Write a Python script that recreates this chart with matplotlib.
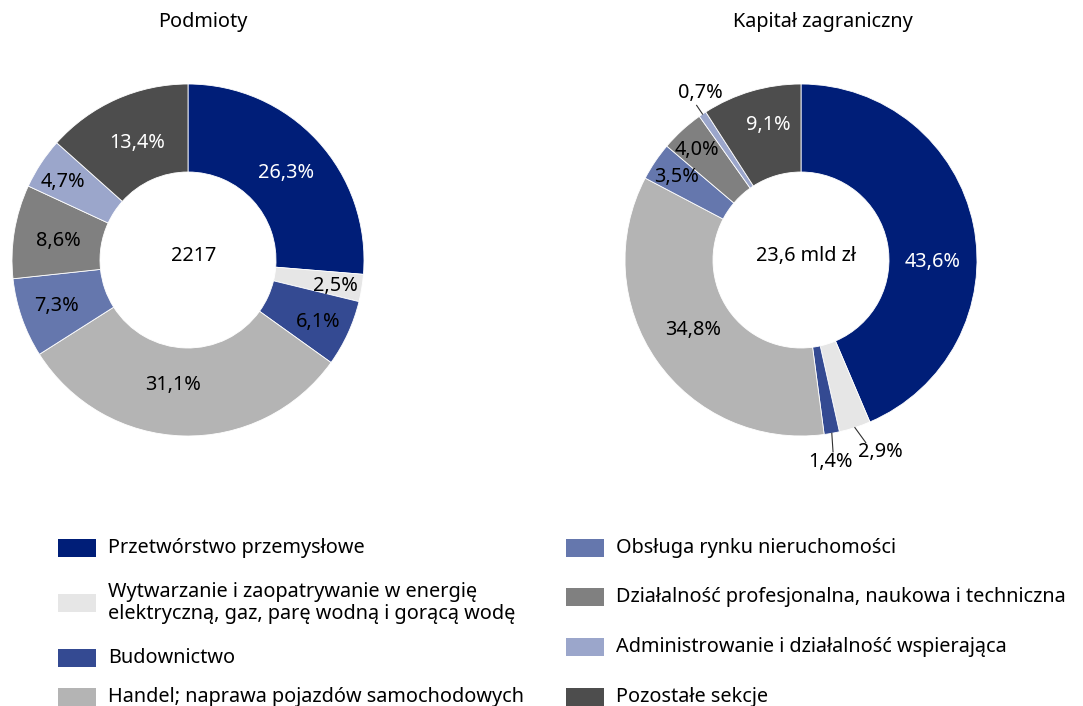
import matplotlib
matplotlib.use("Agg")
import matplotlib.pyplot as plt
from matplotlib.patches import Rectangle
import numpy as np

plt.rcParams['font.family'] = ['Noto Sans', 'DejaVu Sans']

categories = [
    "Przetwórstwo przemysłowe",
    "Wytwarzanie i zaopatrywanie w energię\nelektryczną, gaz, parę wodną i gorącą wodę",
    "Budownictwo",
    "Handel; naprawa pojazdów samochodowych",
    "Obsługa rynku nieruchomości",
    "Działalność profesjonalna, naukowa i techniczna",
    "Administrowanie i działalność wspierająca",
    "Pozostałe sekcje",
]
podmioty = [26.3, 2.5, 6.1, 31.1, 7.3, 8.6, 4.7, 13.4]
kapital = [43.6, 2.9, 1.4, 34.8, 3.5, 4.0, 0.7, 9.1]
titles = ["Podmioty", "Kapitał zagraniczny"]
center_texts = ["2217", "23,6 mld zł"]

colors = ["#001E78", "#E6E6E6", "#344A92", "#B4B4B4",
          "#6577AD", "#808080", "#9BA6CB", "#4D4D4D"]
text_colors = ["white", "black", "black", "black", "black", "black", "black", "white"]

W, H = 1083, 706
fig = plt.figure(figsize=(W / 100, H / 100), dpi=100)

FS = 14.3
R = 176
M = 1.35  # axes half-size in radius units


def make_ax(cx, cy):
    half = R * M
    ax = fig.add_axes([(cx - half) / W, (H - cy - half) / H, 2 * half / W, 2 * half / H])
    return ax


def fmt(v):
    return f"{v:.1f}".replace(".", ",") + "%"


# label placement: (distance in radius units, angle offset deg, leader line (r0, r1, angle offset) or None)
label_pos_left = [(0.745, -1.1, None), (0.85, -0.8, None), (0.82, -0.8, None),
                  (0.715, -5.2, None), (0.79, 0, None), (0.745, 1.1, None),
                  (0.84, 1.3, None), (0.725, -0.6, None)]
label_pos_right = [(0.75, -12.4, None), (1.18, 4.6, (1.0, 1.10, 1.7)),
                   (1.16, -1.9, (1.0, 1.105, -0.6)), (0.73, -1.7, None),
                   (0.85, 0.5, None), (0.86, 0.9, None),
                   (1.11, -3.0, (1.0, 1.06, 0)), (0.79, -2.7, None)]


def draw(cx, cy, values, title, ctext, lpos):
    ax = make_ax(cx, cy)
    wedges, _ = ax.pie(values, colors=colors, startangle=90, counterclock=False,
                       radius=1.0, wedgeprops=dict(width=0.5, edgecolor='white', linewidth=0.6))
    ax.set_xlim(-M, M)
    ax.set_ylim(-M, M)
    ax.set_aspect('equal')
    ax.axis('off')
    for w, v, tc, (d, off, lead) in zip(wedges, values, text_colors, lpos):
        mid = (w.theta1 + w.theta2) / 2.0
        a = np.deg2rad(mid + off)
        ax.text(d * np.cos(a), d * np.sin(a), fmt(v), ha='center', va='center',
                fontsize=FS, color=tc)
        if lead is not None:
            r0, r1, loff = lead
            a0 = np.deg2rad(mid)
            a1 = np.deg2rad(mid + loff)
            ax.plot([r0 * np.cos(a0), r1 * np.cos(a1)], [r0 * np.sin(a0), r1 * np.sin(a1)],
                    color='#303030', linewidth=0.8)
    ax.text(0.03, 0.02, ctext, ha='center', va='center', fontsize=FS, color='black')
    return ax


draw(188, 260, podmioty, titles[0], center_texts[0], label_pos_left)
draw(801, 260, kapital, titles[1], center_texts[1], label_pos_right)

fig.text(203 / W, 1 - 22 / H, titles[0], ha='center', va='center', fontsize=FS)
fig.text(823 / W, 1 - 22 / H, titles[1], ha='center', va='center', fontsize=FS)

# legend
left_rows = [548, 603, 658, 697]
right_rows = [548, 597, 647, 697]
pw, ph = 38, 18
for i in range(8):
    if i < 4:
        px, tx, y = 58, 108, left_rows[i]
    else:
        px, tx, y = 566, 616, right_rows[i - 4]
    fig.patches.append(Rectangle((px / W, (H - y - ph / 2) / H), pw / W, ph / H,
                                 transform=fig.transFigure, facecolor=colors[i],
                                 edgecolor='none'))
    fig.text(tx / W, 1 - y / H, categories[i], ha='left', va='center', fontsize=FS,
             linespacing=1.2)

fig.savefig("out.png", dpi=100)
